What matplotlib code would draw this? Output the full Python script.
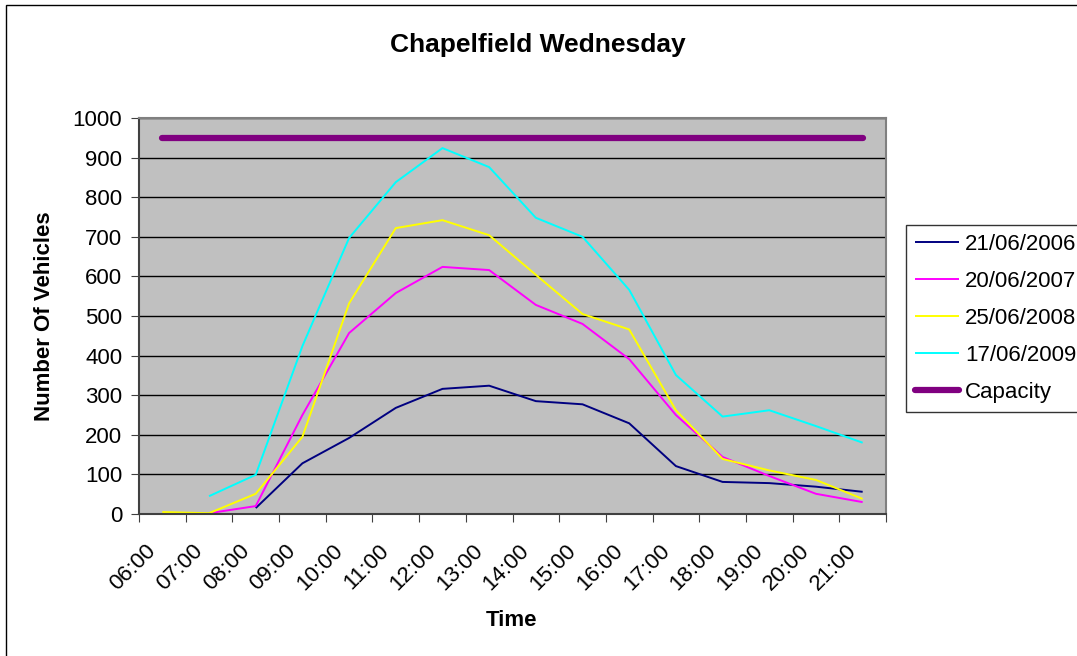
import matplotlib

matplotlib.use("Agg")

import matplotlib.pyplot as plt  # noqa: E402
import numpy as np  # noqa: E402
from matplotlib.patches import Rectangle  # noqa: E402
from matplotlib.transforms import ScaledTranslation  # noqa: E402

nan = np.nan

# Hourly categories on the x axis
TIMES = ["06:00", "07:00", "08:00", "09:00", "10:00", "11:00", "12:00", "13:00",
         "14:00", "15:00", "16:00", "17:00", "18:00", "19:00", "20:00", "21:00"]

# Vehicle counts per survey day (nan = no reading)
DAY_2006 = [nan, nan, 15, 128, 192, 268, 316, 324, 285, 277, 229, 121, 81, 78, 69, 56]
DAY_2007 = [nan, 2, 20, 250, 457, 558, 624, 616, 528, 480, 391, 250, 144, 96, 51, 30]
DAY_2008 = [5, 2, 51, 195, 532, 722, 742, 704, 604, 505, 466, 262, 139, 110, 86, 38]
DAY_2009 = [nan, 45, 99, 424, 697, 838, 924, 876, 748, 700, 566, 351, 246, 262, 222, 180]
CAPACITY = [950] * 16

SERIES = [
    ("21/06/2006", DAY_2006, "#000080", 1.4),
    ("20/06/2007", DAY_2007, "#FF00FF", 1.4),
    ("25/06/2008", DAY_2008, "#FFFF00", 1.4),
    ("17/06/2009", DAY_2009, "#00FFFF", 1.4),
    ("Capacity", CAPACITY, "#800080", 4.5),
]

plt.rcParams["font.family"] = ["Liberation Sans", "DejaVu Sans"]
FS = 16

W, H = 1077, 656
fig = plt.figure(figsize=(W / 100, H / 100), dpi=100)

# outer chart frame (runs off the right and bottom edges)
fig.patches.append(Rectangle((6 / W, -0.1), 1.2, 1 - 5 / H + 0.1,
                             transform=fig.transFigure, fill=False,
                             edgecolor="black", linewidth=1.0))

ax = fig.add_axes([139 / W, 1 - 514 / H, (886 - 139) / W, (514 - 118) / H])
ax.set_facecolor("#C0C0C0")

x = np.arange(len(TIMES)) + 0.5
for label, values, color, lw in SERIES:
    ax.plot(x, values, color=color, linewidth=lw, label=label,
            solid_capstyle="round" if lw > 2 else "butt")

ax.set_xlim(0, len(TIMES))
ax.set_ylim(0, 1000)
ax.set_yticks(np.arange(0, 1001, 100))
ax.yaxis.grid(True, color="black", linewidth=1.0)
ax.set_axisbelow(True)

# ticks between categories, labels centred on categories
ax.set_xticks(np.arange(0, len(TIMES) + 1))
ax.set_xticklabels([])
ax.set_xticks(x, minor=True)
ax.set_xticklabels(TIMES, minor=True, rotation=45, ha="right",
                   rotation_mode="anchor", fontsize=FS)
ax.tick_params(axis="x", which="minor", length=0, pad=12)
ax.tick_params(axis="x", which="major", length=6, color="#404040", direction="out")
ax.tick_params(axis="y", length=6, color="#404040", direction="out",
               labelsize=FS, pad=6)
# nudge rotated labels down-left like the original
shift = ScaledTranslation(-17 / 100, -10 / 100, fig.dpi_scale_trans)
for lbl in ax.get_xticklabels(minor=True):
    lbl.set_transform(lbl.get_transform() + shift)

for side in ("top", "right"):
    ax.spines[side].set_color("#808080")
    ax.spines[side].set_linewidth(1.5)
for side in ("bottom", "left"):
    ax.spines[side].set_color("#404040")
    ax.spines[side].set_linewidth(1.5)

fig.text(512 / W, 1 - 620 / H, "Time", ha="center", va="center",
         fontsize=FS, fontweight="bold")
fig.text(45 / W, 1 - 316 / H, "Number Of Vehicles", ha="center", va="center",
         rotation=90, fontsize=FS, fontweight="bold")
fig.text(538 / W, 1 - 45 / H, "Chapelfield Wednesday", ha="center", va="center",
         fontsize=19, fontweight="bold")

leg = fig.legend(loc="upper left", bbox_to_anchor=(906 / W, 1 - 225 / H),
                 fontsize=FS, frameon=True, fancybox=False, edgecolor="black",
                 handlelength=2.0, handletextpad=0.25, labelspacing=0.72,
                 borderpad=0.4, borderaxespad=0)
leg.get_frame().set_linewidth(1.0)

fig.savefig("out.png", dpi=100)
